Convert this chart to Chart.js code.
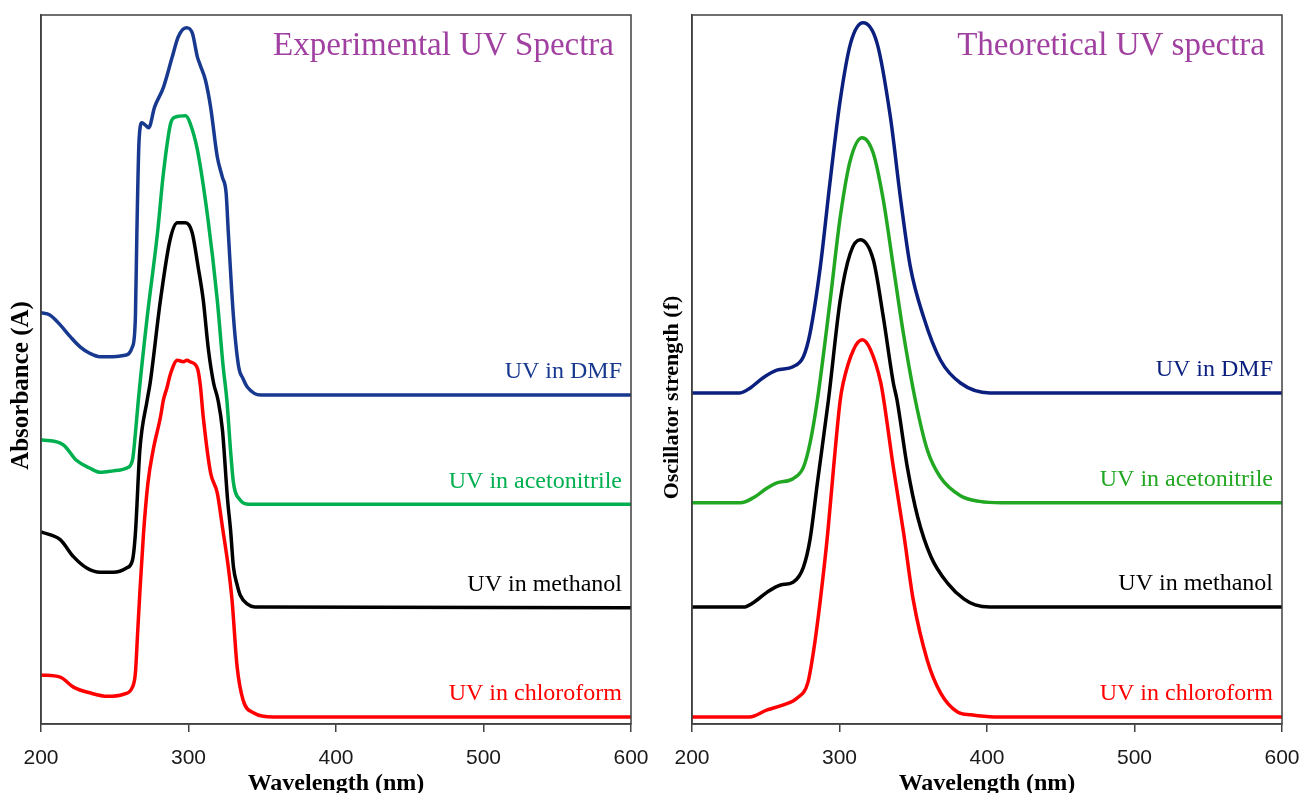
<!DOCTYPE html>
<html lang="en">
<head>
<meta charset="UTF-8">
<title>UV Spectra</title>
<script src="https://cdn.jsdelivr.net/npm/chart.js"></script>
<style>
    html, body { margin: 0; padding: 0; background: #fff; overflow: hidden; }
    .panel { position: absolute; top: 0; height: 800px; }
    #left { left: 0; width: 650px; }
    #right { left: 650px; width: 651px; }
</style>
</head>
<body>
<div class="panel" id="left"><canvas id="expChart"></canvas></div>
<div class="panel" id="right"><canvas id="theoChart"></canvas></div>

<script>
// x axis ticks (nm)
const xTicks = [200, 300, 400, 500, 600];

// experimental spectra (stacked, arbitrary absorbance units)
const expDmfWl = [200, 206, 213, 220, 226.5, 233, 240, 249, 257, 262, 264, 265, 266.5, 268.5, 270.5, 273, 277, 283, 289, 293, 298.5, 302.5, 306, 308, 311.5, 315, 319.5, 323, 325.5, 327, 330.5, 334, 337, 340, 349, 600];
const expDmfAbs = [58.0, 57.7, 56.3, 54.6, 53.2, 52.3, 51.8, 51.8, 52.0, 53.2, 57.4, 69.3, 82.4, 84.8, 84.5, 84.1, 87.0, 89.8, 94.1, 96.9, 98.2, 97.5, 94.1, 92.9, 90.8, 87.0, 80.0, 77.1, 74.9, 69.3, 57.4, 50.4, 48.7, 47.5, 46.4, 46.4];

const expAcnWl = [200, 215, 224, 233, 240, 249, 258, 262, 264, 266, 272, 279, 283, 288, 291, 298, 301, 306, 313, 319.5, 323.5, 326, 328.5, 330.5, 335, 341, 600];
const expAcnAbs = [40.1, 39.4, 37.2, 36.1, 35.5, 35.7, 36.1, 37.2, 41.0, 45.7, 57.4, 69.3, 77.7, 84.8, 85.6, 85.8, 84.8, 81.0, 71.5, 59.8, 50.4, 45.7, 38.6, 34.0, 31.6, 31.0, 31.0];

const expMeoWl = [200, 213, 222, 231, 240, 249, 258, 262, 264, 267, 272, 274, 281, 287.5, 292.5, 298, 302.5, 306.5, 310, 313.5, 317, 320, 323, 326.5, 328.5, 330.5, 333, 335, 340, 345, 600];
const expMeoAbs = [27.1, 26.0, 23.6, 22.0, 21.4, 21.4, 22.0, 23.1, 26.9, 38.6, 45.7, 48.1, 59.8, 68.3, 70.7, 70.7, 69.3, 64.5, 59.8, 52.8, 48.1, 45.7, 41.5, 31.6, 27.4, 22.1, 19.6, 18.2, 16.9, 16.5, 16.4];

const expChlWl = [200, 213, 222, 233, 245, 256, 262, 264, 265.5, 267, 269.5, 272.5, 276, 281, 283, 285.5, 287.5, 292.5, 296.5, 299, 301, 306, 308, 310, 315, 319.5, 323, 327, 329.5, 333, 337, 344, 357.5, 600];
const expChlAbs = [6.9, 6.6, 5.2, 4.4, 3.9, 4.2, 5.2, 7.2, 12.8, 18.5, 26.9, 34.0, 38.6, 43.3, 45.7, 47.5, 49.2, 51.3, 51.1, 51.3, 51.1, 50.2, 47.8, 43.3, 35.4, 32.6, 27.8, 22.1, 17.5, 8.0, 3.4, 1.6, 1.0, 1.0];

// theoretical spectra (stacked, arbitrary oscillator strength units)
const thDmfWl = [200, 232.5, 239.5, 248, 257.5, 268.5, 275.5, 280, 287, 293.5, 300.5, 307.5, 316, 325.5, 334.5, 341.5, 348, 357, 368.5, 382, 402, 600];
const thDmfF = [46.7, 46.7, 47.4, 48.8, 49.9, 50.4, 51.8, 55.1, 64.5, 76.3, 88.0, 96.0, 98.9, 96.0, 85.6, 73.9, 64.5, 57.4, 51.3, 48.1, 46.7, 46.7];

const thAcnWl = [200, 233, 241.5, 251, 257.5, 268.5, 275.5, 280, 285, 293.7, 300.5, 307.3, 315.4, 322.9, 329.7, 336.5, 343.3, 351.4, 359.6, 368.4, 382, 395, 410, 600];
const thAcnF = [31.2, 31.2, 31.9, 33.3, 34.0, 34.6, 36.2, 39.6, 45.7, 59.8, 71.5, 79.5, 82.7, 80.5, 73.9, 64.5, 55.1, 45.7, 38.6, 34.8, 32.2, 31.4, 31.2, 31.2];

const thMeoWl = [200, 235, 241.5, 251, 260, 268.5, 275.5, 280, 285, 292.5, 300.5, 307.3, 314, 323, 329.7, 336.5, 339, 346, 353, 362, 373.5, 384.5, 392, 402, 600];
const thMeoF = [16.5, 16.5, 17.1, 18.6, 19.6, 20.0, 22.1, 26.0, 34.0, 45.7, 59.8, 66.4, 68.3, 65.4, 57.4, 48.1, 45.7, 36.2, 29.2, 23.6, 19.8, 17.6, 16.8, 16.5, 16.5];

const thChlWl = [200, 239, 251, 262, 271.5, 278.5, 282.5, 287, 292, 296, 300.5, 302.5, 309.5, 315.5, 321, 328, 330, 336.5, 343.5, 350, 359.5, 368.5, 380, 389, 405, 600];
const thChlF = [1.0, 1.0, 2.0, 2.7, 3.7, 5.8, 10.4, 17.5, 26.9, 36.2, 45.7, 48.1, 52.8, 54.2, 52.8, 48.1, 45.7, 36.2, 26.9, 17.5, 9.0, 4.4, 1.7, 1.3, 1.0, 1.0];

const zip = (xs, ys) => xs.map((x, i) => ({ x: x, y: ys[i] }));

function series(label, xs, ys, color) {
    return {
        label: label,
        data: zip(xs, ys),
        borderColor: color,
        labelColor: color,
        borderWidth: 3.5,
        pointRadius: 0,
        fill: false,
        cubicInterpolationMode: 'monotone'
    };
}

// box round the plot area, panel title, y title and the curve names
const panelDecor = {
    id: 'panelDecor',
    afterDatasetsDraw(chart, args, opts) {
        const { ctx, chartArea: a, scales } = chart;
        ctx.save();
        ctx.strokeStyle = '#404040';
        ctx.lineWidth = 1.5;
        ctx.strokeRect(a.left, a.top, a.right - a.left, a.bottom - a.top);

        ctx.textAlign = 'right';
        ctx.textBaseline = 'middle';
        ctx.font = '33px "Liberation Serif"';
        ctx.fillStyle = '#A040A0';
        ctx.fillText(opts.title, a.right - 17, a.top + 31);

        ctx.font = '24px "Liberation Serif"';
        chart.data.datasets.forEach(ds => {
            const last = ds.data[ds.data.length - 1].y;
            ctx.fillStyle = ds.labelColor;
            ctx.fillText(ds.label, a.right - 9, scales.y.getPixelForValue(last) - 23);
        });

        // y title, a little below the middle as in the original
        ctx.save();
        ctx.translate(opts.yTitleX, (a.top + a.bottom) / 2 + opts.yTitleShift);
        ctx.rotate(-Math.PI / 2);
        ctx.textAlign = 'center';
        ctx.fillStyle = '#000';
        ctx.font = 'bold ' + opts.yTitleSize + 'px "Liberation Serif"';
        ctx.fillText(opts.yTitle, 0, 0);
        ctx.restore();
        ctx.restore();
    }
};

function makeChart(id, datasets, title, yTitle, yWidth, yTitleSize, yTitleShift) {
    return new Chart(document.getElementById(id), {
        type: 'line',
        data: { datasets: datasets },
        plugins: [panelDecor],
        options: {
            responsive: true,
            maintainAspectRatio: false,
            animation: false,
            layout: { padding: { top: 15, right: 19, left: 0, bottom: 0 } },
            plugins: {
                legend: { display: false },
                tooltip: { enabled: false },
                panelDecor: { title: title, yTitle: yTitle, yTitleX: 22, yTitleSize: yTitleSize, yTitleShift: yTitleShift }
            },
            scales: {
                x: {
                    type: 'linear',
                    min: 200,
                    max: 600,
                    afterBuildTicks: scale => { scale.ticks = xTicks.map(v => ({ value: v })); },
                    afterFit: scale => {
                        scale.height = 76;
                        scale.paddingLeft = 0;
                        scale.paddingRight = 0;
                    },
                    grid: { display: true, drawOnChartArea: false, drawTicks: true, tickLength: 8, color: '#404040', lineWidth: 1.5 },
                    border: { display: true, color: '#404040', width: 1.5 },
                    ticks: { color: '#1a1a1a', padding: 14, font: { family: '"Liberation Sans"', size: 21 } },
                    title: {
                        display: true,
                        text: 'Wavelength (nm)',
                        color: '#000',
                        padding: { top: 0, bottom: 2 },
                        font: { family: '"Liberation Serif"', size: 24, weight: 'bold' }
                    }
                },
                y: {
                    min: 0,
                    max: 100,
                    afterFit: scale => { scale.width = yWidth; },
                    grid: { display: false },
                    border: { display: true, color: '#404040', width: 1.5 },
                    ticks: { display: false },
                    title: { display: false }
                }
            }
        }
    });
}

makeChart('expChart', [
    series('UV in DMF', expDmfWl, expDmfAbs, '#17398F'),
    series('UV in acetonitrile', expAcnWl, expAcnAbs, '#00B050'),
    series('UV in methanol', expMeoWl, expMeoAbs, '#000000'),
    series('UV in chloroform', expChlWl, expChlAbs, '#FF0000')
], 'Experimental UV Spectra', 'Absorbance (A)', 41, 25, 16);

makeChart('theoChart', [
    series('UV in DMF', thDmfWl, thDmfF, '#0B1F7E'),
    series('UV in acetonitrile', thAcnWl, thAcnF, '#22A722'),
    series('UV in methanol', thMeoWl, thMeoF, '#000000'),
    series('UV in chloroform', thChlWl, thChlF, '#FF0000')
], 'Theoretical UV spectra', 'Oscillator strength (f)', 42, 22, 28);
</script>
</body>
</html>
